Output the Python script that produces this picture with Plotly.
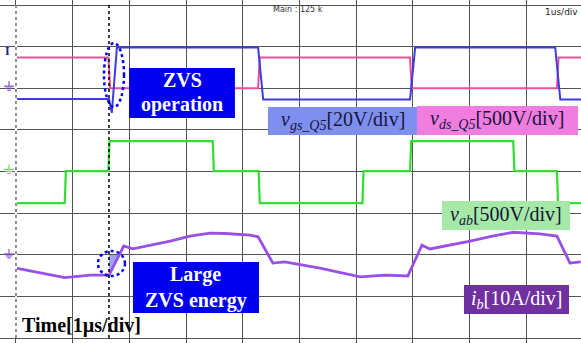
import numpy as np
import plotly.graph_objects as go

# ---- data (time in microseconds, amplitude in screen divisions) ----
vds_t = [0, 1.63, 1.66, 4.27, 4.30, 6.95, 6.98, 9.54, 9.57, 9.97]
vds_v = [6.74, 6.74, 6.00, 6.00, 6.74, 6.74, 6.00, 6.00, 6.74, 6.74]

vgs_t = [0, 1.64, 1.69, 1.78, 4.27, 4.36, 6.95, 7.04, 9.51, 9.60, 9.97]
vgs_v = [5.74, 5.74, 5.41, 6.98, 6.98, 5.73, 5.73, 6.98, 6.98, 5.73, 5.73]

vab_t = [0, 0.86, 0.88, 1.63, 1.65, 3.47, 3.49, 4.28, 4.30, 6.11, 6.13,
         6.95, 6.97, 8.77, 8.79, 9.54, 9.56, 9.97]
vab_v = [3.24, 3.24, 4.01, 4.01, 4.73, 4.73, 4.01, 4.01, 3.24, 3.24, 4.01,
         4.01, 4.73, 4.73, 4.01, 4.01, 3.24, 3.24]

ib_t = [0, 0.42, 0.86, 1.31, 1.64, 1.90, 2.06, 2.72, 3.07, 3.42, 3.69, 4.13,
        4.27, 4.53, 4.74, 5.36, 6.07, 6.51, 6.91, 7.16, 7.30, 8.01, 8.40,
        8.77, 9.24, 9.54, 9.77, 9.96]
ib_v = [1.68, 1.57, 1.45, 1.51, 1.51, 2.21, 2.14, 2.33, 2.45, 2.52, 2.51, 2.47,
        2.43, 1.80, 1.83, 1.68, 1.47, 1.51, 1.49, 2.23, 2.14, 2.33, 2.45,
        2.54, 2.50, 2.45, 1.80, 1.83]

zvs_time = 1.64  # dotted marker (us)

# ---- colours ----
C_PINK = "#e8509a"
C_BLUE = "#3c3ce0"
C_GREEN = "#33dd33"
C_PURPLE = "#9a50e6"

SERIF = "Liberation Serif"
PX_X = 1 / 56.7     # one screen pixel in x data units
PX_Y = 1 / 41.625   # one screen pixel in y data units

fig = go.Figure()
fig.add_trace(go.Scatter(x=ib_t, y=ib_v, mode="lines",
                         line=dict(color=C_PURPLE, width=2.8), hoverinfo="skip"))
fig.add_trace(go.Scatter(x=vab_t, y=vab_v, mode="lines",
                         line=dict(color=C_GREEN, width=2.2), hoverinfo="skip"))
fig.add_trace(go.Scatter(x=vds_t, y=vds_v, mode="lines",
                         line=dict(color=C_PINK, width=2), hoverinfo="skip"))
fig.add_trace(go.Scatter(x=vgs_t, y=vgs_v, mode="lines",
                         line=dict(color=C_BLUE, width=2), hoverinfo="skip"))

# ZVS energy triangle derived from the current trace
y_at = float(np.interp(zvs_time, ib_t, ib_v))
y_top = 2.02
seg_t = [1.64, 1.90]
seg_v = [1.51, 2.21]
x_top = float(np.interp(y_top, seg_v, seg_t))
fig.add_shape(type="path",
              path=f"M {zvs_time},{y_at} L {zvs_time},{y_top} L {x_top},{y_top} Z",
              fillcolor="#9ea6f4", line=dict(width=0), layer="below")

# left border: dotted
fig.add_shape(type="line", x0=0, x1=0, y0=0, y1=8,
              line=dict(color="white", width=2))
fig.add_shape(type="line", x0=0, x1=0, y0=0, y1=8,
              line=dict(color="#555555", width=1.3, dash="dot"))

# dotted time marker
fig.add_shape(type="line", x0=zvs_time, x1=zvs_time, y0=0, y1=8,
              line=dict(color="black", width=1.5, dash="dot"))

# ellipses
fig.add_shape(type="circle", x0=1.552, x1=1.905, y0=5.55, y1=7.087,
              line=dict(color="#0000ff", width=2.5, dash="dot"))
fig.add_shape(type="circle", x0=1.446, x1=1.922, y0=1.49, y1=2.09,
              line=dict(color="#0000ff", width=2.5, dash="dot"))

# label boxes
boxes = [
    (1.993, 3.862, 5.285, 6.486, "#0000ee"),   # ZVS operation
    (2.063, 4.286, 0.601, 1.826, "#0000ee"),   # Large ZVS energy
    (4.444, 7.072, 4.877, 5.550, "#7f8ff0"),   # vgs
    (7.072, 9.912, 4.877, 5.574, "#f27de0"),   # vds
    (7.513, 9.771, 2.595, 3.291, "#a6e8a6"),   # vab
    (7.901, 9.753, 0.577, 1.273, "#7030a0"),   # ib
]
for x0, x1, y0, y1, col in boxes:
    fig.add_shape(type="rect", x0=x0, x1=x1, y0=y0, y1=y1,
                  fillcolor=col, line=dict(width=0))

def txt(x, y, text, size, color, bold=False, family=SERIF, xanchor="center"):
    if bold:
        text = f"<b>{text}</b>"
    fig.add_annotation(x=x, y=y, text=text, showarrow=False, xanchor=xanchor,
                       yanchor="middle", font=dict(family=family, size=size, color=color))

txt(2.93, 6.20, "ZVS", 20, "white", bold=True)
txt(2.93, 5.62, "operation", 20, "white", bold=True)
txt(3.17, 1.53, "Large", 20, "white", bold=True)
txt(3.17, 0.91, "ZVS energy", 20, "white", bold=True)

txt(5.76, 5.22, "<i>v<sub>gs_Q5</sub></i>[20V/div]", 20, "#15153a")
txt(8.49, 5.24, "<i>v<sub>ds_Q5</sub></i>[500V/div]", 20, "#15153a")
txt(8.64, 2.95, "<i>v<sub>ab</sub></i>[500V/div]", 20, "#15153a")
txt(8.83, 0.93, "<i>i<sub>b</sub></i>[10A/div]", 20, "white")

txt(0.07, 0.30, "Time[1µs/div]", 20, "black", bold=True, xanchor="left")

txt(4.97, 7.88, "Main : 125 k", 8, "#333333", family="DejaVu Sans")
txt(9.95, 7.83, "1us/div", 9, "#222222", family="DejaVu Sans", xanchor="right")

# channel markers on the left
txt(-0.15, 6.90, "I", 12, "#20208a", bold=True)


def ground(yc, color):
    xc = -7 * PX_X - 0.0
    xc = -0.123
    # stem
    fig.add_shape(type="line", x0=xc, x1=xc, y0=yc + 5 * PX_Y, y1=yc,
                  line=dict(color=color, width=1.2))
    for k, hw in enumerate([5, 3.5, 1.8]):
        yy = yc - 2 * k * PX_Y
        fig.add_shape(type="line", x0=xc - hw * PX_X, x1=xc + hw * PX_X,
                      y0=yy, y1=yy, line=dict(color=color, width=1.2))


ground(6.05, "#7a4cc8")
ground(4.05, "#66d866")
ground(2.02, "#8a5ad8")

fig.update_layout(
    width=581, height=343,
    margin=dict(l=0, r=0, t=0, b=0),
    paper_bgcolor="white", plot_bgcolor="white",
    showlegend=False,
    xaxis=dict(range=[-0.282, 9.965], dtick=1, tick0=0, showgrid=True,
               gridcolor="#555555", gridwidth=1, zeroline=False,
               showticklabels=False, ticks="", showline=False, fixedrange=True),
    yaxis=dict(range=[-0.12, 8.12], dtick=1, tick0=0, showgrid=True,
               gridcolor="#555555", gridwidth=1, zeroline=False,
               showticklabels=False, ticks="", showline=False, fixedrange=True),
)

fig.write_html("out.html", config={"displayModeBar": False},
               post_script="document.body.style.margin='0';document.body.style.overflow='hidden';")
